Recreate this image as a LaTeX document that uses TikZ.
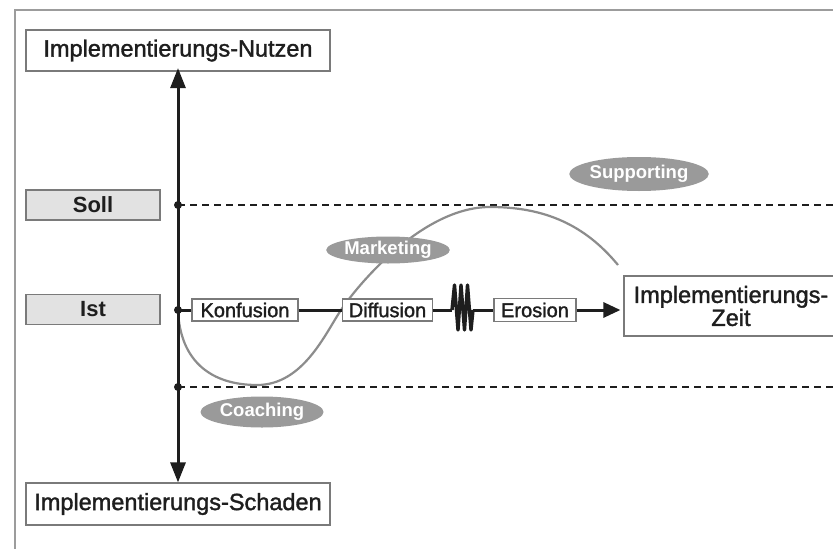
\documentclass[tikz,border=0pt]{standalone}
\usepackage{fontspec}
\setmainfont{Liberation Sans}
\newfontfamily\medfont[FakeBold=1.5]{Liberation Sans}
\usetikzlibrary{arrows.meta,shapes.geometric}
\definecolor{ink}{HTML}{1E1E1E}
\definecolor{boxline}{HTML}{7A7A7A}
\definecolor{lightfill}{HTML}{E2E2E2}
\definecolor{curvegray}{HTML}{8C8C8C}
\definecolor{ellgray}{HTML}{9A9A9A}
\definecolor{framegray}{HTML}{9C9C9C}
\tikzset{
  bigbox/.style={draw=boxline, line width=1.2pt, fill=white, inner sep=0pt, text=ink,
    font=\medfont\fontsize{23.5}{25}\selectfont},
  sidebox/.style={draw=boxline, line width=1.2pt, fill=lightfill, inner sep=0pt, text=ink,
    minimum width=134pt, minimum height=30pt, font=\fontsize{22}{24}\selectfont\bfseries},
  phasebox/.style={draw=boxline, line width=1.1pt, fill=white, inner sep=0pt, text=ink,
    minimum height=22pt, font=\medfont\fontsize{20}{21}\selectfont},
  measure/.style={ellipse, fill=ellgray, draw=none, inner sep=0pt, text=white,
    font=\fontsize{18.5}{20}\selectfont\bfseries},
  axisline/.style={line width=3pt, draw=ink, {Triangle[length=20pt,width=15pt]}-{Triangle[length=20pt,width=15pt]}},
  mainline/.style={line width=3pt, draw=ink},
  levelline/.style={line width=2pt, draw=ink, dash pattern=on 7pt off 5pt},
  dotmark/.style={circle, fill=ink, inner sep=0pt, minimum size=8pt},
  curveline/.style={line width=2.2pt, draw=curvegray},
}
\begin{document}
\begin{tikzpicture}[x=1pt,y=-1pt]
\useasboundingbox (0,0) rectangle (833,549);
\fill[white] (0,0) rectangle (833,549);
% outer frame
\draw[framegray, line width=2.5pt] (15,560) -- (15,10) -- (845,10);

% level markers
\coordinate (sollpt) at (178,205);
\coordinate (istpt) at (178,310);
\coordinate (lowpt) at (178,387);
\coordinate (sollend) at (845,205);
\coordinate (lowend) at (845,387);
\draw[levelline] (sollpt) -- (sollend);
\draw[levelline] (lowpt) -- (lowend);

% curve
\coordinate (cstart) at (178,310);
\coordinate (cbottom) at (257,385);
\coordinate (ccross) at (341,310);
\coordinate (cpeak) at (490,207);
\coordinate (cend) at (618,265);
\draw[curveline] (cstart) .. controls (180,362) and (212,385) .. (cbottom)
  .. controls (303,385) and (325,334) .. (ccross)
  .. controls (357,286) and (422,207) .. (cpeak)
  .. controls (545,207) and (585,225) .. (cend);

% ellipses
\node[measure, minimum width=123pt, minimum height=27pt] (marketing) at (388,250) {Marketing};
\node[measure, minimum width=134pt, minimum height=34pt] (supporting) at (639,174) {Supporting};
\node[measure, minimum width=123pt, minimum height=31pt] (coaching) at (262,412) {Coaching};

% axis boxes
\node[bigbox, minimum width=304pt, minimum height=41pt] (nutzen) at (178,50.5) {Implementierungs-Nutzen};
\node[bigbox, minimum width=304pt, minimum height=42pt] (schaden) at (178,504) {Implementierungs-Schaden};
\node[sidebox] (soll) at (93,205) {Soll};
\node[sidebox] (ist) at (93,309.5) {Ist};

% vertical axis
\draw[axisline] (schaden.north) -- ([yshift=3.5pt]nutzen.south);
\node[dotmark] at (sollpt) {};
\node[dotmark] at (istpt) {};
\node[dotmark] at (lowpt) {};

% phases
\node[phasebox, minimum width=106pt] (konf) at (245,310) {Konfusion};
\node[phasebox, minimum width=90pt] (diff) at (387.5,310) {Diffusion};
\node[phasebox, minimum width=82pt, minimum height=23pt] (eros) at (535,310) {Erosion};
\node[bigbox, minimum width=214pt, minimum height=60pt, align=center] (zeit) at (731,306)
  {Implementierungs-\\[-2pt]Zeit};

% main line
\coordinate (zza) at (452,310);
\coordinate (zzb) at (473,310);
\draw[mainline] (istpt) -- (konf.west);
\draw[mainline] (konf.east) -- (diff.west);
\draw[mainline] (diff.east) -- (zza);
\draw[mainline, line join=round, line width=3.4pt] (zza) -- (454.5,285) -- (458,330) -- (461,285) -- (464.5,330)
  -- (467.5,285) -- (471,330) -- (zzb);
\draw[mainline] (zzb) -- (eros.west);
\draw[mainline, -{Triangle[length=17pt,width=15pt]}] (eros.east) -- ([xshift=-3pt]eros.east -| zeit.west);
\end{tikzpicture}
\end{document}
